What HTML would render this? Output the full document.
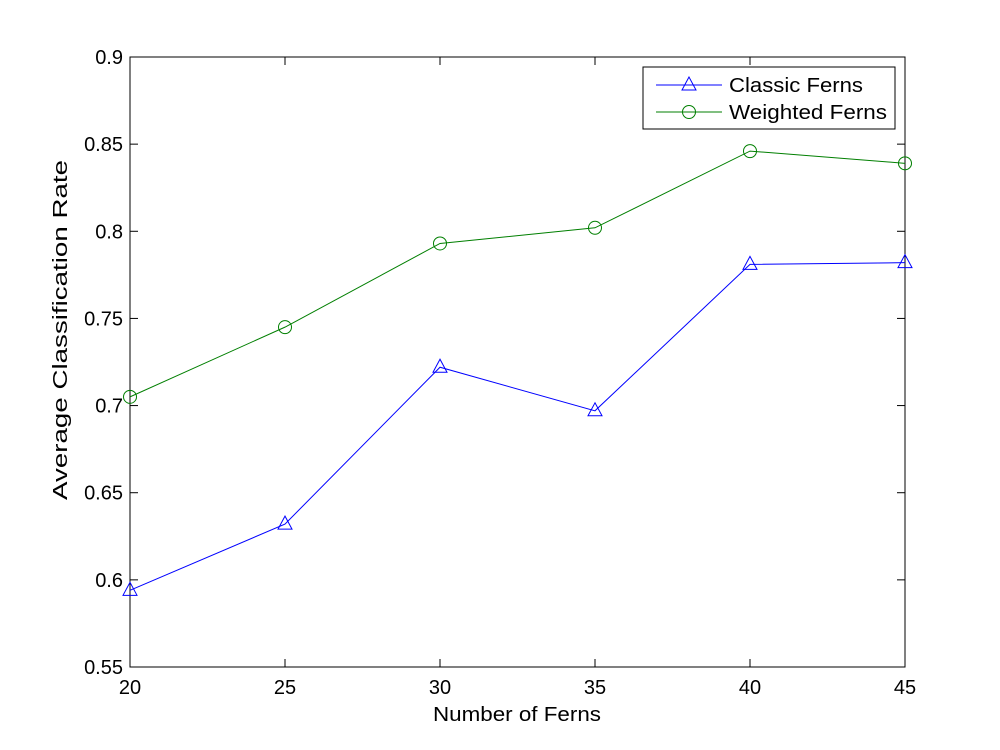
<!DOCTYPE html>
<html><head><meta charset="utf-8"><style>
body{margin:0;background:#fff;}
svg{display:block;font-family:"Liberation Sans",Arial,sans-serif;}
</style></head><body>
<svg id="chart" width="1000" height="750"></svg>
<script>
const categories=[20,25,30,35,40,45];
const classicValues=[0.594,0.632,0.722,0.697,0.781,0.782];
const weightedValues=[0.705,0.745,0.793,0.802,0.846,0.839];
const yTicks=[0.55,0.6,0.65,0.7,0.75,0.8,0.85,0.9];
const yTickLabels=["0.55","0.6","0.65","0.7","0.75","0.8","0.85","0.9"];
const xTickLabels=["20","25","30","35","40","45"];

const svg=document.getElementById('chart');
const NS='http://www.w3.org/2000/svg';
const L=130,R=905,T=57,B=667;
const xs=v=>L+(v-20)/(45-20)*(R-L);
const ys=v=>B-(v-0.55)/(0.9-0.55)*(B-T);
function mk(tag,attrs,parent){const e=document.createElementNS(NS,tag);for(const k in attrs)e.setAttribute(k,attrs[k]);(parent||svg).appendChild(e);return e;}

const frame=mk('rect',{x:L,y:T,width:R-L,height:B-T,fill:'#fff',stroke:'#000','stroke-width':1});



yTicks.forEach((v,i)=>{
  const y=ys(v);
  mk('line',{x1:L,y1:y,x2:L+8,y2:y,stroke:'#000'});
  mk('line',{x1:R,y1:y,x2:R-8,y2:y,stroke:'#000'});
  const t=mk('text',{x:L-7,y:y+7,'text-anchor':'end','font-size':20});
  t.textContent=yTickLabels[i];
  
  
});
categories.forEach((c,i)=>{
  const x=xs(c);
  mk('line',{x1:x,y1:B,x2:x,y2:B-8,stroke:'#000'});
  mk('line',{x1:x,y1:T,x2:x,y2:T+8,stroke:'#000'});
  const t=mk('text',{x:x,y:B+27,'text-anchor':'middle','font-size':20});
  t.textContent=xTickLabels[i];
  
  
});
const xt=mk('text',{x:433,y:721,'font-size':20,textLength:168,lengthAdjust:'spacingAndGlyphs'});
xt.textContent='Number of Ferns';


const yt=mk('text',{x:0,y:0,'font-size':20,textLength:340,lengthAdjust:'spacingAndGlyphs',transform:`translate(67,500) rotate(-90)`});
yt.textContent='Average Classification Rate';



function tri(x,y,color,parent){return mk('polygon',{points:`${x},${y-8} ${x-7},${y+5} ${x+7},${y+5}`,fill:'none',stroke:color,'stroke-width':1},parent);}
function circ(x,y,color,parent){return mk('circle',{cx:x,cy:y,r:6.5,fill:'none',stroke:color,'stroke-width':1},parent);}

function series(vals,color,marker,name){
  const g=mk('g',{});
  
  
  mk('polyline',{points:vals.map((v,i)=>xs(categories[i])+','+ys(v)).join(' '),fill:'none',stroke:color,'stroke-width':1},g);
  vals.forEach((v,i)=>{
    const m=marker(xs(categories[i]),ys(v),color,g);
    
    
  });
}
series(classicValues,'#0000ff',tri,'classic-ferns-series');
series(weightedValues,'#007f00',circ,'weighted-ferns-series');

const lg=mk('g',{});


mk('rect',{x:643,y:67,width:252,height:62,fill:'#fff',stroke:'#000'},lg);
const e1=mk('g',{},lg);


mk('line',{x1:656,y1:85,x2:722,y2:85,stroke:'#0000ff'},e1);
tri(689,85,'#0000ff',e1);
const t1=mk('text',{x:729,y:92,'font-size':20,textLength:134,lengthAdjust:'spacingAndGlyphs'},e1);t1.textContent='Classic Ferns';
const e2=mk('g',{},lg);


mk('line',{x1:656,y1:112,x2:722,y2:112,stroke:'#007f00'},e2);
circ(689,112,'#007f00',e2);
const t2=mk('text',{x:729,y:119,'font-size':20,textLength:158,lengthAdjust:'spacingAndGlyphs'},e2);t2.textContent='Weighted Ferns';
</script>
</body></html>
